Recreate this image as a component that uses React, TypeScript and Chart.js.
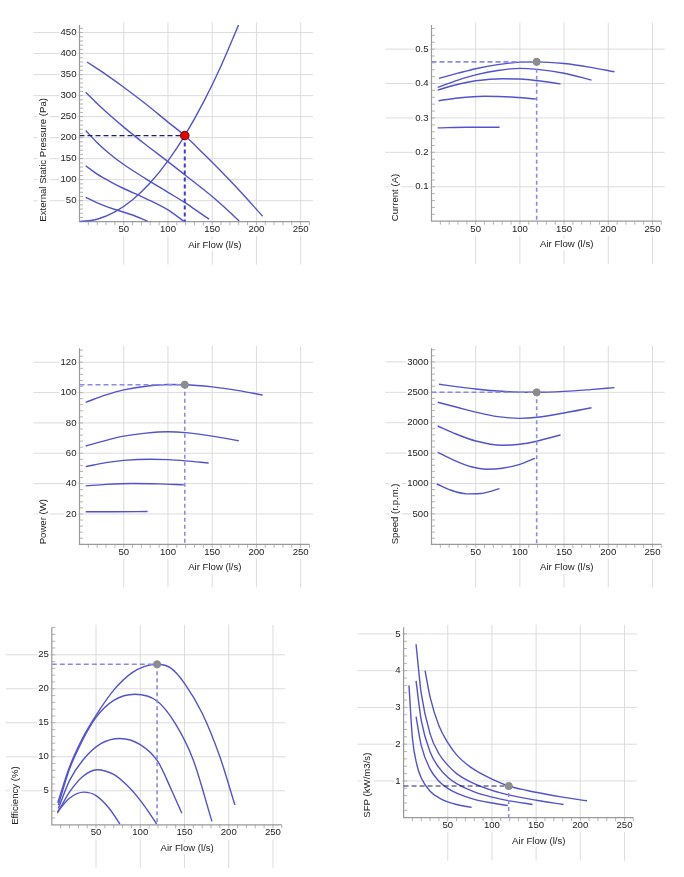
import React, { useEffect, useRef } from 'react';
import { Chart, registerables } from 'chart.js';

Chart.register(...registerables);

type Pt = [number, number];

// ---------------- shared x axis ----------------
const airflowTicks = [50, 100, 150, 200, 250];
const airflowLabels = ['50', '100', '150', '200', '250'];
const airflowMax = 260;
const airflowMinorStep = 10;
const airflowTitle = 'Air Flow (l/s)';
const operatingFlow = 119;

// ---------------- External static pressure ----------------
const pressureTicks = [50, 100, 150, 200, 250, 300, 350, 400, 450];
const pressureLabels = ['50', '100', '150', '200', '250', '300', '350', '400', '450'];
const pressureCurve1: Pt[] = [[8.5, 380], [30, 350], [50, 320], [75, 280], [100, 237], [119, 205], [140, 162], [160, 120], [180, 76], [207, 13]];
const pressureCurve2: Pt[] = [[7, 308], [25, 271], [50, 225], [75, 183], [100, 143], [120, 110], [150, 60], [165, 32], [180.5, 2]];
const pressureCurve3: Pt[] = [[7, 217], [20, 188], [35, 160], [50, 136], [75, 102], [100, 70], [118, 47], [130, 30], [146.5, 6]];
const pressureCurve4: Pt[] = [[7, 133], [20, 113], [35, 95], [50, 79], [75, 55], [100, 28], [118, 1]];
const pressureCurve5: Pt[] = [[7, 58], [20, 45], [40, 29], [60, 16], [77, 1]];
const systemCurve: Pt[] = [[0, 0], [20, 5.8], [40, 23.2], [60, 52.1], [80, 92.7], [100, 144.8], [119, 205], [140, 283.8], [160, 370.6], [180, 469]];
const pressureOperating = 205;

// ---------------- Current ----------------
const currentTicks = [0.1, 0.2, 0.3, 0.4, 0.5];
const currentLabels = ['0.1', '0.2', '0.3', '0.4', '0.5'];
const currentCurve1: Pt[] = [[8.5, 0.415], [30, 0.43], [50, 0.443], [75, 0.455], [100, 0.462], [119, 0.463], [150, 0.458], [180, 0.447], [207, 0.434]];
const currentCurve2: Pt[] = [[7, 0.389], [30, 0.41], [50, 0.425], [75, 0.438], [100, 0.444], [120, 0.441], [150, 0.43], [181, 0.41]];
const currentCurve3: Pt[] = [[7, 0.381], [30, 0.398], [50, 0.408], [80, 0.414], [100, 0.413], [120, 0.408], [146, 0.399]];
const currentCurve4: Pt[] = [[8, 0.35], [30, 0.358], [60, 0.363], [90, 0.361], [118, 0.355]];
const currentCurve5: Pt[] = [[7, 0.271], [40, 0.273], [77, 0.273]];
const currentOperating = 0.463;

// ---------------- Power ----------------
const powerTicks = [20, 40, 60, 80, 100, 120];
const powerLabels = ['20', '40', '60', '80', '100', '120'];
const powerCurve1: Pt[] = [[7, 93.6], [30, 98.5], [50, 101.8], [75, 104.2], [100, 105.3], [119, 105.2], [150, 103.8], [180, 101.3], [207, 98.4]];
const powerCurve2: Pt[] = [[7, 64.8], [30, 68.5], [50, 71.3], [75, 73.3], [100, 74.2], [120, 73.6], [150, 71.3], [180, 68.3]];
const powerCurve3: Pt[] = [[7, 51.2], [30, 53.8], [50, 55.3], [80, 56.1], [100, 55.8], [120, 55], [146, 53.6]];
const powerCurve4: Pt[] = [[7, 38.5], [30, 39.5], [60, 40.1], [90, 39.8], [118, 39.2]];
const powerCurve5: Pt[] = [[7, 21.5], [40, 21.5], [77, 21.6]];
const powerOperating = 105.2;

// ---------------- Speed ----------------
const speedTicks = [500, 1000, 1500, 2000, 2500, 3000];
const speedLabels = ['500', '1000', '1500', '2000', '2500', '3000'];
const speedCurve1: Pt[] = [[8.5, 2632], [30, 2590], [50, 2555], [75, 2522], [100, 2503], [119, 2500], [150, 2515], [180, 2545], [207, 2577]];
const speedCurve2: Pt[] = [[7, 2336], [30, 2250], [50, 2175], [75, 2100], [100, 2072], [120, 2090], [150, 2160], [181, 2247]];
const speedCurve3: Pt[] = [[7, 1946], [25, 1830], [50, 1700], [80, 1630], [100, 1645], [120, 1700], [146, 1798]];
const speedCurve4: Pt[] = [[7, 1513], [25, 1385], [45, 1275], [62, 1235], [80, 1250], [100, 1315], [117, 1414]];
const speedCurve5: Pt[] = [[6, 992], [20, 900], [40, 830], [55, 835], [77, 915]];
const speedOperating = 2500;

// ---------------- Efficiency ----------------
const efficiencyTicks = [5, 10, 15, 20, 25];
const efficiencyLabels = ['5', '10', '15', '20', '25'];
const efficiencyCurve1: Pt[] = [[6.7, 3.25], [20, 8.5], [35, 12.8], [50, 16.1], [70, 19.8], [90, 22.3], [105, 23.3], [119, 23.6], [135, 23], [150, 20.8], [170, 16.4], [190, 10], [207, 2.9]];
const efficiencyCurve2: Pt[] = [[7.4, 2.9], [20, 8.2], [35, 12.5], [50, 15.8], [70, 18.3], [94, 19.2], [119, 18.2], [140, 14.8], [160, 9.5], [181, 0.5]];
const efficiencyCurve3: Pt[] = [[7.4, 2.4], [20, 6.5], [35, 9.5], [55, 11.9], [77, 12.7], [100, 11.8], [120, 9.3], [135, 5.2], [147, 1.7]];
const efficiencyCurve4: Pt[] = [[6.3, 1.7], [20, 4.8], [35, 7.1], [51, 8.1], [70, 7.4], [85, 5.8], [100, 3.6], [110, 1.8], [118.5, 0.1]];
const efficiencyCurve5: Pt[] = [[6.3, 1.9], [20, 3.9], [36, 4.8], [50, 4.3], [65, 2.4], [77, 0.1]];
const efficiencyOperating = 23.6;

// ---------------- SFP ----------------
const sfpTicks = [1, 2, 3, 4, 5];
const sfpLabels = ['1', '2', '3', '4', '5'];
const sfpCurve1: Pt[] = [[24.3, 4.0], [30, 3.28], [40, 2.5], [50, 2.04], [60, 1.71], [75, 1.39], [90, 1.17], [100, 1.05], [119, 0.863], [140, 0.74], [160, 0.645], [180, 0.56], [207.6, 0.46]];
const sfpCurve2: Pt[] = [[14.1, 4.72], [20, 3.38], [30, 2.28], [40, 1.74], [50, 1.43], [60, 1.2], [75, 0.98], [100, 0.742], [120, 0.613], [150, 0.475], [181, 0.36]];
const sfpCurve3: Pt[] = [[14.1, 3.72], [20, 2.65], [30, 1.79], [40, 1.36], [50, 1.1], [60, 0.925], [80, 0.7], [100, 0.558], [120, 0.458], [146, 0.36]];
const sfpCurve4: Pt[] = [[14.1, 2.75], [20, 1.96], [30, 1.32], [40, 0.99], [50, 0.8], [60, 0.67], [80, 0.5], [100, 0.4], [118, 0.332]];
const sfpCurve5: Pt[] = [[6.1, 3.6], [10, 2.16], [15, 1.44], [20, 1.08], [30, 0.72], [40, 0.54], [50, 0.43], [60, 0.36], [77, 0.28]];
const sfpOperating = 0.863;

// ---------------- styling ----------------
const FONT = "'Liberation Sans', Arial, Helvetica, sans-serif";
const FONT_SIZE = 9.6;
const TEXT = '#222222';
const GRID = '#dcdcdc';
const AXIS = '#9a9a9a';
const MINOR = '#b4b4b4';
const CURVE = 'rgb(82, 82, 206)';
const DARK_DASH = '#1f1f75';
const LIGHT_DASH = '#8a8ae8';
const Y_W = 41.76;
const X_H = 40;
const W = 684;
const H = 877;

interface Panel {
  id: string;
  box: { L: number; T: number; R: number; B: number };
  curves: Pt[][];
  opY: number;
  yTicks: number[];
  yLabels: string[];
  yMax: number;
  yMinor: number;
  yTitle: string;
  opFill: string;
  opBorder: string;
  opRadius: number;
  hDash: { color: string; width: number };
  vDash: { color: string; width: number };
}

const grey = { opFill: '#8c8c8c', opBorder: '#8c8c8c', opRadius: 3.6 };

const panels: Panel[] = [
  {
    id: 'pressure', box: { L: 79.5, T: 25, R: 309.5, B: 221.7 },
    curves: [pressureCurve1, pressureCurve2, pressureCurve3, pressureCurve4, pressureCurve5, systemCurve],
    opY: pressureOperating, yTicks: pressureTicks, yLabels: pressureLabels, yMax: 468, yMinor: 10,
    yTitle: 'External Static Pressure (Pa)',
    opFill: '#e60000', opBorder: '#6b0000', opRadius: 4.3,
    hDash: { color: DARK_DASH, width: 1.2 }, vDash: { color: '#3b3bd6', width: 2 },
  },
  {
    id: 'current', box: { L: 431.5, T: 25, R: 661.3, B: 221.2 },
    curves: [currentCurve1, currentCurve2, currentCurve3, currentCurve4, currentCurve5],
    opY: currentOperating, yTicks: currentTicks, yLabels: currentLabels, yMax: 0.57, yMinor: 0.02,
    yTitle: 'Current (A)', ...grey,
    hDash: { color: LIGHT_DASH, width: 1.6 }, vDash: { color: LIGHT_DASH, width: 1.6 },
  },
  {
    id: 'power', box: { L: 79.5, T: 348.3, R: 309.5, B: 544.3 },
    curves: [powerCurve1, powerCurve2, powerCurve3, powerCurve4, powerCurve5],
    opY: powerOperating, yTicks: powerTicks, yLabels: powerLabels, yMax: 129.2, yMinor: 4,
    yTitle: 'Power (W)', ...grey,
    hDash: { color: LIGHT_DASH, width: 1.6 }, vDash: { color: LIGHT_DASH, width: 1.6 },
  },
  {
    id: 'speed', box: { L: 431.5, T: 348.3, R: 661.3, B: 544.3 },
    curves: [speedCurve1, speedCurve2, speedCurve3, speedCurve4, speedCurve5],
    opY: speedOperating, yTicks: speedTicks, yLabels: speedLabels, yMax: 3224, yMinor: 100,
    yTitle: 'Speed (r.p.m.)', ...grey,
    hDash: { color: LIGHT_DASH, width: 1.6 }, vDash: { color: LIGHT_DASH, width: 1.6 },
  },
  {
    id: 'efficiency', box: { L: 51.8, T: 627.3, R: 281.8, B: 824.8 },
    curves: [efficiencyCurve1, efficiencyCurve2, efficiencyCurve3, efficiencyCurve4, efficiencyCurve5],
    opY: efficiencyOperating, yTicks: efficiencyTicks, yLabels: efficiencyLabels, yMax: 29.04, yMinor: 1,
    yTitle: 'Efficiency (%)', ...grey,
    hDash: { color: LIGHT_DASH, width: 1.6 }, vDash: { color: LIGHT_DASH, width: 1.6 },
  },
  {
    id: 'sfp', box: { L: 403.6, T: 627.3, R: 633.3, B: 817.7 },
    curves: [sfpCurve1, sfpCurve2, sfpCurve3, sfpCurve4, sfpCurve5],
    opY: sfpOperating, yTicks: sfpTicks, yLabels: sfpLabels, yMax: 5.18, yMinor: 0.2,
    yTitle: 'SFP (kW/m3/s)', ...grey,
    hDash: { color: DARK_DASH, width: 1.2 }, vDash: { color: LIGHT_DASH, width: 1.6 },
  },
];

const fontStr = `${FONT_SIZE}px ${FONT}`;

const framePlugin = {
  id: 'frame',
  beforeDraw(chart: any, _args: any, o: any) {
    const { ctx, chartArea: ca } = chart;
    const xs = chart.scales.x;
    const ys = chart.scales.y;
    ctx.save();
    ctx.strokeStyle = GRID;
    ctx.lineWidth = 1;
    ctx.beginPath();
    for (const v of o.yTicks) {
      const y = ys.getPixelForValue(v);
      ctx.moveTo(ca.left - 46, y);
      ctx.lineTo(ca.right + 3.5, y);
    }
    for (const v of o.xTicks) {
      const x = xs.getPixelForValue(v);
      ctx.moveTo(x, ca.top - 2.5);
      ctx.lineTo(x, ca.bottom + 43);
    }
    ctx.stroke();
    ctx.font = fontStr;
    const w = ctx.measureText(o.yTitle).width;
    ctx.fillStyle = '#ffffff';
    ctx.fillRect(ca.left - 36 - 6, ca.bottom - w - 1, 12, w + 2);
    ctx.restore();
  },
  beforeDatasetsDraw(chart: any, _args: any, o: any) {
    const { ctx, chartArea: ca } = chart;
    const xs = chart.scales.x;
    const ys = chart.scales.y;
    ctx.save();
    ctx.strokeStyle = MINOR;
    ctx.lineWidth = 1;
    ctx.beginPath();
    const ny = Math.floor(o.yMax / o.yMinor + 1e-6);
    for (let i = 1; i <= ny; i++) {
      const y = ys.getPixelForValue(i * o.yMinor);
      ctx.moveTo(ca.left, y);
      ctx.lineTo(ca.left + 3.5, y);
    }
    const nx = Math.floor(o.xMax / o.xMinor + 1e-6);
    for (let i = 1; i <= nx; i++) {
      const x = xs.getPixelForValue(i * o.xMinor);
      ctx.moveTo(x, ca.bottom);
      ctx.lineTo(x, ca.bottom + 3.5);
    }
    ctx.stroke();
    ctx.strokeStyle = AXIS;
    ctx.lineWidth = 1.2;
    ctx.beginPath();
    ctx.moveTo(ca.left, ca.top);
    ctx.lineTo(ca.left, ca.bottom);
    ctx.lineTo(ca.right, ca.bottom);
    ctx.stroke();
    ctx.restore();
  },
  afterDraw(chart: any, _args: any, o: any) {
    const { ctx, chartArea: ca } = chart;
    const xs = chart.scales.x;
    ctx.save();
    ctx.font = fontStr;
    const x = xs.getPixelForValue(o.xTitleAt);
    const y = ca.bottom + 23.5;
    const w = ctx.measureText(o.xTitle).width;
    ctx.fillStyle = '#ffffff';
    ctx.fillRect(x - w / 2 - 1, y - 6, w + 2, 12);
    ctx.fillStyle = TEXT;
    ctx.textAlign = 'center';
    ctx.textBaseline = 'middle';
    ctx.fillText(o.xTitle, x, y);
    ctx.restore();
  },
};

function buildConfig(p: Panel): any {
  const { L, T, R, B } = p.box;
  const ox = operatingFlow;
  const oy = p.opY;
  const curve = (pts: Pt[]) => ({
    data: pts.map(([x, y]) => ({ x, y })),
    borderColor: CURVE,
    borderWidth: 1.4,
    pointRadius: 0,
    pointHoverRadius: 0,
    fill: false,
    cubicInterpolationMode: 'monotone',
    order: 3,
  });
  const straight = (pts: Pt[], color: string, width: number, dash: number[]) => ({
    data: pts.map(([x, y]) => ({ x, y })),
    borderColor: color,
    borderWidth: width,
    borderDash: dash,
    pointRadius: 0,
    pointHoverRadius: 0,
    fill: false,
    tension: 0,
    order: 2,
  });
  const tickFont = { family: FONT, size: FONT_SIZE };
  const tickCommon = {
    autoSkip: false,
    maxRotation: 0,
    color: TEXT,
    font: tickFont,
    showLabelBackdrop: true,
    backdropColor: '#ffffff',
    backdropPadding: 1,
  };
  return {
    type: 'line',
    data: {
      datasets: [
        ...p.curves.map(curve),
        straight([[0, oy], [ox, oy]], p.hDash.color, p.hDash.width, [5, 3]),
        straight([[ox, oy], [ox, 0]], p.vDash.color, p.vDash.width, [4, 3]),
        {
          data: [{ x: ox, y: oy }],
          showLine: false,
          pointRadius: p.opRadius,
          pointHoverRadius: p.opRadius,
          pointBackgroundColor: p.opFill,
          pointBorderColor: p.opBorder,
          pointBorderWidth: 1,
          order: 0,
        },
      ],
    },
    options: {
      responsive: false,
      animation: false,
      events: [],
      devicePixelRatio: 1,
      layout: { padding: { left: L - Y_W, top: T, right: W - R, bottom: H - B - X_H } },
      plugins: {
        legend: { display: false },
        tooltip: { enabled: false },
        frame: {
          yTicks: p.yTicks,
          xTicks: airflowTicks,
          yMax: p.yMax,
          yMinor: p.yMinor,
          xMax: airflowMax,
          xMinor: airflowMinorStep,
          yTitle: p.yTitle,
          xTitle: airflowTitle,
          xTitleAt: 153,
        },
      },
      scales: {
        x: {
          type: 'linear',
          min: 0,
          max: airflowMax,
          grid: { display: false, drawTicks: false },
          border: { display: false },
          ticks: {
            ...tickCommon,
            padding: 2,
            callback: (v: number) => {
              const i = airflowTicks.indexOf(v);
              return i >= 0 ? airflowLabels[i] : '';
            },
          },
          afterBuildTicks: (s: any) => { s.ticks = airflowTicks.map((value) => ({ value })); },
          afterFit: (s: any) => { s.height = X_H; },
        },
        y: {
          type: 'linear',
          min: 0,
          max: p.yMax,
          grid: { display: false, drawTicks: false },
          border: { display: false },
          ticks: {
            ...tickCommon,
            padding: 3,
            callback: (v: number) => {
              const i = p.yTicks.indexOf(v);
              return i >= 0 ? p.yLabels[i] : '';
            },
          },
          title: {
            display: true,
            text: p.yTitle,
            align: 'start',
            padding: 0,
            color: TEXT,
            font: tickFont,
          },
          afterBuildTicks: (s: any) => { s.ticks = p.yTicks.map((value) => ({ value })); },
          afterFit: (s: any) => { s.width = Y_W; },
        },
      },
    },
    plugins: [framePlugin],
  };
}

function PanelChart({ p }: { p: Panel }) {
  const ref = useRef<HTMLCanvasElement | null>(null);
  useEffect(() => {
    if (!ref.current) return;
    const chart = new Chart(ref.current, buildConfig(p));
    return () => chart.destroy();
  }, [p]);
  return (
    <canvas
      ref={ref}
      width={W}
      height={H}
      style={{ position: 'absolute', left: 0, top: 0, width: W, height: H, pointerEvents: 'none' }}
    />
  );
}

export default function App() {
  return (
    <div style={{ position: 'absolute', left: 0, top: 0, width: W, height: H, background: '#ffffff', overflow: 'hidden' }}>
      {panels.map((p) => (
        <PanelChart key={p.id} p={p} />
      ))}
    </div>
  );
}
